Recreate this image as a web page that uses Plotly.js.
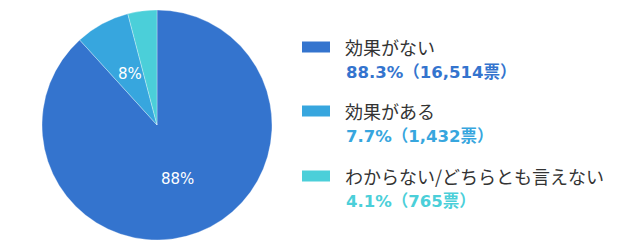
<!DOCTYPE html>
<html><head><meta charset="utf-8">
<script src="https://cdn.plot.ly/plotly-3.0.1.min.js"></script>
<style>html,body{margin:0;padding:0;background:#fff}#c{width:640px;height:248px}</style>
</head><body><div id="c"></div>
<script>
const categories = ["効果がない", "効果がある", "わからない/どちらとも言えない"];
const votes = [16514, 1432, 765];
const pctLabels = ["88.3%", "7.7%", "4.1%"];
const voteLabels = ["16,514票", "1,432票", "765票"];
const sliceText = ["88%", "8%", ""];
const colors = ["#3474CE", "#37A6DE", "#4BCFD9"];

const W = 640, H = 248;
const dom = {x: [42/W, 272/W], y: [8/H, 238/H]};

const trace = {
  type: "pie",
  labels: categories,
  values: votes,
  sort: false,
  direction: "clockwise",
  rotation: 0,
  textinfo: "none",
  marker: {colors: colors, line: {color: "rgba(255,255,255,0.5)", width: 0.6}},
  domain: dom,
  showlegend: false,
  hoverinfo: "none"
};

const annotations = [];
const shapes = [];

// slice labels at half radius, at each slice's mid angle (from the data)
const total = votes.reduce((a, b) => a + b, 0);
const cxPx = (dom.x[0] + dom.x[1]) / 2 * W;
const cyPx = (1 - (dom.y[0] + dom.y[1]) / 2) * H;
const rPx = Math.min((dom.x[1] - dom.x[0]) * W, (dom.y[1] - dom.y[0]) * H) / 2;
let cum = 0;
votes.forEach((v, i) => {
  const mid = (cum + v / 2) / total * 2 * Math.PI;
  cum += v;
  if (!sliceText[i]) return;
  const px = cxPx + 0.5 * rPx * Math.sin(mid);
  const py = cyPx - 0.5 * rPx * Math.cos(mid);
  annotations.push({xref: "paper", yref: "paper", x: px / W, y: 1 - py / H,
    xanchor: "center", yanchor: "middle", showarrow: false, text: sliceText[i],
    font: {family: "DejaVu Sans, sans-serif", size: 15, color: "#ffffff"}});
});

const rowY = [47, 111, 176];
categories.forEach((c, i) => {
  const y = rowY[i];
  shapes.push({type: "rect", xref: "paper", yref: "paper",
    x0: 302/W, x1: 330/W, y0: 1 - (y + 5.5)/H, y1: 1 - (y - 5.5)/H,
    fillcolor: colors[i], line: {width: 0}});
  annotations.push({xref: "paper", yref: "paper", x: 343/W, y: 1 - y/H,
    xanchor: "left", yanchor: "middle", showarrow: false, text: c,
    font: {family: "Noto Sans CJK JP, sans-serif", size: 18, color: "#333333"}});
  annotations.push({xref: "paper", yref: "paper", x: 344/W, y: 1 - (y + 25.5)/H,
    xanchor: "left", yanchor: "middle", showarrow: false,
    text: "<b>" + pctLabels[i] + "（" + voteLabels[i] + "）</b>",
    font: {family: "DejaVu Sans, Noto Sans CJK JP, sans-serif", size: 16.5, color: colors[i]}});
});

const layout = {
  width: W, height: H,
  margin: {l: 0, r: 0, t: 0, b: 0},
  paper_bgcolor: "#ffffff",
  shapes: shapes,
  annotations: annotations
};
Plotly.newPlot("c", [trace], layout, {displayModeBar: false, staticPlot: true});
</script></body></html>
